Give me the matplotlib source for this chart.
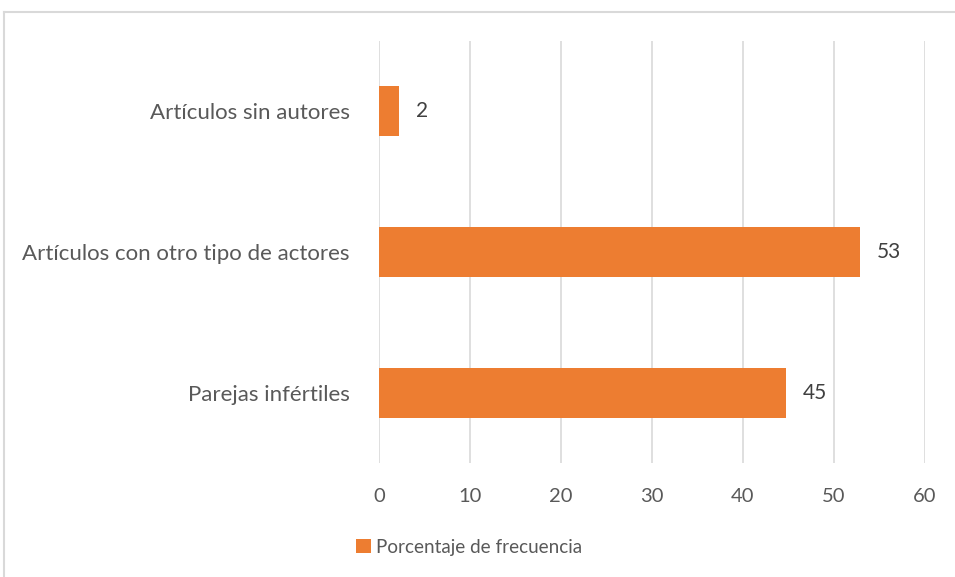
import matplotlib.pyplot as plt
from matplotlib.lines import Line2D

# data (bottom to top, as drawn)
categories = ["Parejas infértiles", "Artículos con otro tipo de actores", "Artículos sin autores"]
values = [44.7, 52.9, 2.2]
series_name = "Porcentaje de frecuencia"
x_ticks = [0, 10, 20, 30, 40, 50, 60]

BAR_COLOR = "#ED7D31"
TEXT_COLOR = "#595959"
GRID_COLOR = "#D9D9D9"

plt.rcParams["font.family"] = ["Lato", "DejaVu Sans"]

fig = plt.figure(figsize=(9.55, 5.77), dpi=100)
ax = fig.add_axes([379 / 955, 1 - 463 / 577, (925 - 379) / 955, (463 - 41) / 577])

bars = ax.barh(range(len(categories)), values, height=0.355, color=BAR_COLOR,
               label=series_name, zorder=3)

ax.bar_label(bars, labels=[f"{v:.0f}" for v in values], padding=12,
             fontsize=15, color="#404040")

ax.set_xlim(0, 60)
ax.set_ylim(-0.5, len(categories) - 0.5)
ax.set_xticks(x_ticks)
ax.set_yticks(range(len(categories)))
ax.set_yticklabels(categories)
ax.tick_params(axis="both", length=0, labelcolor=TEXT_COLOR)
ax.tick_params(axis="x", pad=18, labelsize=14.5)
ax.tick_params(axis="y", pad=21, labelsize=16)

ax.grid(axis="x", color=GRID_COLOR, linewidth=1.2, zorder=0)
for s in ax.spines.values():
    s.set_visible(False)

# legend at the bottom
fig.legend(loc="center", bbox_to_anchor=(469 / 955, 1 - 547 / 577), frameon=False,
           fontsize=13.6, labelcolor=TEXT_COLOR, handlelength=0.8, handleheight=0.8,
           handletextpad=0.3)

# chart frame (right and bottom cut off in the original)
fig.add_artist(Line2D([4 / 955, 4 / 955], [0, 1 - 12 / 577], color=GRID_COLOR, linewidth=1.5))
fig.add_artist(Line2D([4 / 955, 1], [1 - 12 / 577, 1 - 12 / 577], color=GRID_COLOR, linewidth=1.5))

fig.savefig("out.png", dpi=100)
